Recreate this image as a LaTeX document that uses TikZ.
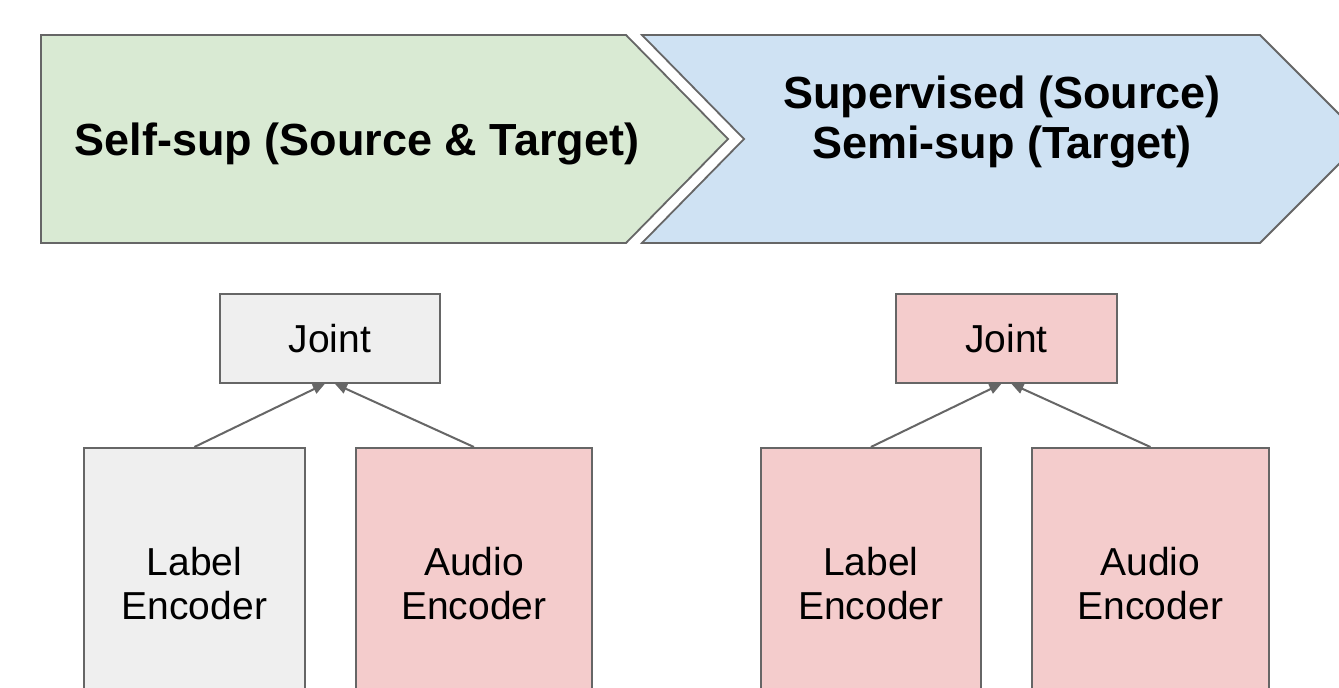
\documentclass[tikz,border=0pt]{standalone}
\usepackage{fontspec}
\setmainfont{Liberation Sans}
\usetikzlibrary{arrows.meta,calc}
\definecolor{stagegreen}{HTML}{D9EAD3}
\definecolor{stageblue}{HTML}{CFE2F3}
\definecolor{trainpink}{HTML}{F4CCCC}
\definecolor{frozengray}{HTML}{EFEFEF}
\definecolor{edgegray}{HTML}{666666}
\tikzset{
  stage/.style={draw=edgegray, line width=1.8pt, line join=miter},
  block/.style={draw=edgegray, line width=1.8pt, inner sep=0pt, align=center,
    font=\fontsize{39}{44}\selectfont},
  link/.style={draw=edgegray, line width=2pt, -{Triangle[length=12pt,width=10pt]}},
  stagetitle/.style={font=\fontsize{45}{52}\selectfont\bfseries, anchor=base},
}
\begin{document}
\begin{tikzpicture}[x=1pt,y=-1pt]
\useasboundingbox (0,0) rectangle (1339,688);
\clip (0,0) rectangle (1339,688);
\fill[white] (0,0) rectangle (1339,688);

% training stages
\draw[stage, fill=stagegreen] (41,35) -- (626,35) -- (728,139) -- (626,243) -- (41,243) -- cycle;
\draw[stage, fill=stageblue] (642,35) -- (1260,35) -- (1364,139) -- (1260,243) -- (642,243) -- (744,139) -- cycle;
\node[stagetitle] (selfsup) at (357,155) {Self-sup (Source \& Target)};
\node[stagetitle] (superv) at (1002,108) {Supervised (Source)};
\node[stagetitle] (semisup) at (1002,158) {Semi-sup (Target)};

% stage 1 model
\node[block, fill=frozengray, minimum width=220pt, minimum height=89pt, anchor=north west] (jointA) at (219,293) {Joint};
\node[block, fill=frozengray, minimum width=221pt, minimum height=272pt, anchor=north west] (labelA) at (83,447) {Label\\Encoder};
\node[block, fill=trainpink, minimum width=236pt, minimum height=272pt, anchor=north west] (audioA) at (355,447) {Audio\\Encoder};
\draw[link] (labelA.north) -- ($(jointA.south)+(-5,0)$);
\draw[link] (audioA.north) -- ($(jointA.south)+(5,0)$);

% stage 2 model
\node[block, fill=trainpink, minimum width=221pt, minimum height=89pt, anchor=north west] (jointB) at (895,293) {Joint};
\node[block, fill=trainpink, minimum width=220pt, minimum height=272pt, anchor=north west] (labelB) at (760,447) {Label\\Encoder};
\node[block, fill=trainpink, minimum width=237pt, minimum height=272pt, anchor=north west] (audioB) at (1031,447) {Audio\\Encoder};
\draw[link] (labelB.north) -- ($(jointB.south)+(-5,0)$);
\draw[link] (audioB.north) -- ($(jointB.south)+(5,0)$);
\end{tikzpicture}
\end{document}
